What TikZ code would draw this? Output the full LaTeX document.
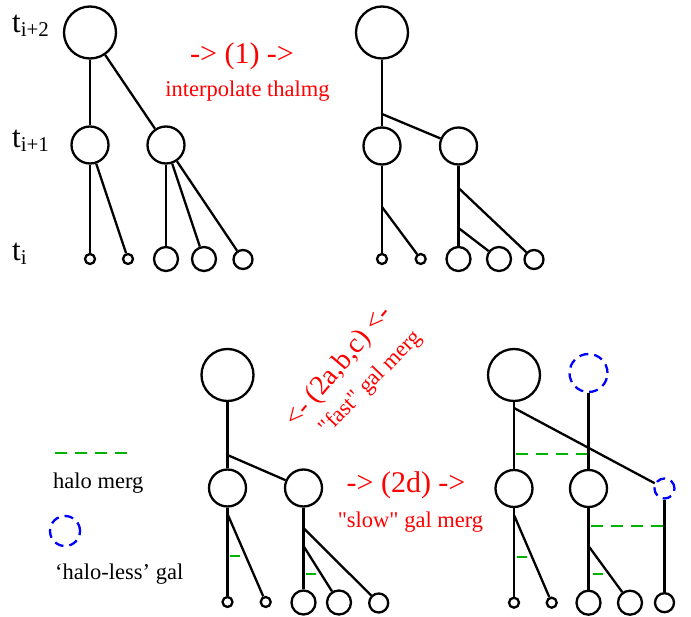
\documentclass[tikz,border=0pt]{standalone}
\usepackage{fontspec}
\setmainfont{Liberation Serif}
\usetikzlibrary{positioning}
\usepackage{xcolor}
\definecolor{StepRed}  {RGB}{255,0,0}
\definecolor{HaloGreen}{RGB}{0,178,0}
\definecolor{OrphBlue} {RGB}{0,0,255}
\tikzset{
  % galaxy / halo circles, size = path diameter
  gal/.style={
    circle, draw=black, line width=2.3pt,
    inner sep=0pt, minimum size=#1
  },
  gal/.default=37pt,
  bighalo/.style={gal=52pt},
  leafA/.style={gal=24pt},
  leafB/.style={gal=19pt},
  leafS/.style={gal=10pt},
  % halo-less galaxy
  orphan/.style={
    circle, draw=OrphBlue, line width=2.3pt, dash pattern=on 9pt off 6pt,
    inner sep=0pt, minimum size=#1
  },
  link/.style={line width=2.3pt},
  halomerg/.style={draw=HaloGreen, line width=2.3pt, dash pattern=on 12pt off 8pt},
  steptxt/.style={text=StepRed, font=\fontsize{30}{32}\selectfont, inner sep=0pt},
  subtxt/.style ={text=StepRed, font=\fontsize{22.5}{25}\selectfont, inner sep=0pt},
  keytxt/.style ={font=\fontsize{22.5}{25}\selectfont, inner sep=0pt, anchor=base west},
  tlab/.style   ={font=\fontsize{31}{33}\selectfont, inner sep=0pt, anchor=base west}
}
\newcommand{\tsub}[1]{t\raisebox{-3.5pt}{\fontsize{21}{22}\selectfont #1}}

\begin{document}
\begin{tikzpicture}[x=1pt, y=-1pt]
  \useasboundingbox (0,0) rectangle (691,617);

  %% ── Time labels ────────────────────────────────────────────────────────────
  \node[tlab] (ti2) at (12,33)  {\tsub{i+2}};
  \node[tlab] (ti1) at (12,148) {\tsub{i+1}};
  \node[tlab] (ti0) at (12,261) {\tsub{i}};

  %% ── Original tree (top left) ───────────────────────────────────────────────
  \node[bighalo] (a0)  at (90,32.5)  {};
  \node[gal]     (a1)  at (90,145)   {};
  \node[gal]     (a2)  at (166,145)  {};
  \node[leafS]   (a11) at (90,259)   {};
  \node[leafS]   (a12) at (128,259)  {};
  \node[leafA]   (a21) at (166,259)  {};
  \node[leafA]   (a22) at (204,259)  {};
  \node[leafB]   (a23) at (243,259.5){};

  \draw[link] (a0) -- (a1);
  \draw[link] (a0) -- (a2);
  \draw[link] (a1) -- (a11);
  \draw[link] (a1) -- (a12);
  \draw[link] (a2) -- (a21);
  \draw[link] (a2) -- (a22);
  \draw[link] (a2) -- (a23);

  \node[steptxt, anchor=base] (step1)    at (242,64)  {-> (1) ->};
  \node[subtxt,  anchor=base] (step1lab) at (247.5,97) {interpolate thalmg};

  %% ── Interpolated tree (top right) ──────────────────────────────────────────
  \node[bighalo] (b0)  at (382,32.5)  {};
  \node[gal]     (b1)  at (382,146)   {};
  \node[gal]     (b2)  at (458.5,146) {};
  \node[leafS]   (b11) at (382,259)   {};
  \node[leafS]   (b12) at (420.7,259) {};
  \node[leafA]   (b21) at (458.5,259) {};
  \node[leafA]   (b22) at (499,259)   {};
  \node[leafB]   (b23) at (534,259.5) {};

  \coordinate (bj0)  at (382,114);
  \coordinate (bj1)  at (382,207);
  \coordinate (bj2a) at (458.5,188);
  \coordinate (bj2b) at (458.5,228);

  \draw[link] (b0) -- (b1);
  \draw[link] (bj0) -- (b2);
  \draw[link] (b1) -- (b11);
  \draw[link] (bj1) -- (b12);
  \draw[link] (b2) -- (b21);
  \draw[link] (bj2a) -- (b23);
  \draw[link] (bj2b) -- (b22);

  %% ── Fast galaxy mergers (bottom middle) ────────────────────────────────────
  \node[bighalo] (c0)  at (227.5,375)  {};
  \node[gal]     (c1)  at (227.5,488)  {};
  \node[gal]     (c2)  at (303.5,488)  {};
  \node[leafS]   (c11) at (227.5,602)  {};
  \node[leafS]   (c12) at (265.7,602)  {};
  \node[leafA]   (c21) at (303.5,602.5){};
  \node[leafA]   (c22) at (339,602.5)  {};
  \node[leafB]   (c23) at (378.7,603)  {};

  \coordinate (cj0)  at (227.5,455);
  \coordinate (cj1)  at (227.5,514);
  \coordinate (cj2a) at (303.5,528);
  \coordinate (cj2b) at (303.5,546);

  \draw[link] (c0) -- (c1);
  \draw[link] (cj0) -- (c2);
  \draw[link] (c1) -- (c11);
  \draw[link] (cj1) -- (c12);
  \draw[link] (c2) -- (c21);
  \draw[link] (cj2a) -- (c23);
  \draw[link] (cj2b) -- (c22);

  \coordinate (ctk1) at (229.5,556);
  \coordinate (ctk2) at (305.5,574);
  \draw[halomerg] (ctk1) -- ++(10,0);
  \draw[halomerg] (ctk2) -- ++(10,0);

  \node[steptxt, rotate=50, font=\fontsize{28}{30}\selectfont]
    (step2abc) at (339,367) {<- (2a,b,c) <-};
  \node[subtxt, rotate=46]
    (step2abclab) at (371,383) {\textquotedbl fast\textquotedbl{} gal merg};

  %% ── Slow galaxy mergers (bottom right) ─────────────────────────────────────
  \node[bighalo]     (d0)  at (514,375)     {};
  \node[orphan=38pt] (dg)  at (588.5,373)   {};
  \node[gal]         (d1)  at (514,488.5)   {};
  \node[gal]         (d2)  at (588.5,488.5) {};
  \node[orphan=20pt] (dh)  at (664.5,488.5) {};
  \node[leafS]       (d11) at (514,602.7)   {};
  \node[leafS]       (d12) at (551.7,602.7) {};
  \node[leafA]       (d21) at (588.5,602.7) {};
  \node[leafA]       (d22) at (630,602.7)   {};
  \node[leafB]       (d23) at (664.5,602.7) {};

  \coordinate (dj0) at (514,408);
  \coordinate (dj1) at (514,515);
  \coordinate (dj2) at (588.5,546);

  \draw[link] (d0) -- (d1);
  \draw[link] (dj0) -- (dh);
  \draw[link] (dg) -- (d2);
  \draw[link] (dh) -- (d23);
  \draw[link] (d1) -- (d11);
  \draw[link] (dj1) -- (d12);
  \draw[link] (d2) -- (d21);
  \draw[link] (dj2) -- (d22);

  % halo mergers between branches
  \coordinate (dm1) at (515.5,454.3);
  \coordinate (dm2) at (590.5,525.7);
  \draw[halomerg] (dm1) -- ([xshift=-1.5pt]dm1 -| d2);
  \draw[halomerg] (dm2) -- ([xshift=-1.5pt]dm2 -| dh);

  \coordinate (dtk1) at (516.5,557);
  \coordinate (dtk2) at (592.5,574.3);
  \draw[halomerg] (dtk1) -- ++(10,0);
  \draw[halomerg] (dtk2) -- ++(10,0);

  \node[steptxt, anchor=base] (step2d)    at (406,493)   {-> (2d) ->};
  \node[subtxt,  anchor=base] (step2dlab) at (410.5,527) {\textquotedbl slow\textquotedbl{} gal merg};

  %% ── Legend ─────────────────────────────────────────────────────────────────
  \coordinate (keyA) at (55,453);
  \coordinate (keyB) at (127,453);
  \draw[halomerg] (keyA) -- (keyB);
  \node[keytxt] (keyhalo) at (53,489) {halo merg};

  \node[orphan=30pt] (keyorph) at (65,531) {};
  \node[keytxt] (keyorphtxt) at (55,579) {`halo-less' gal};

\end{tikzpicture}
\end{document}
